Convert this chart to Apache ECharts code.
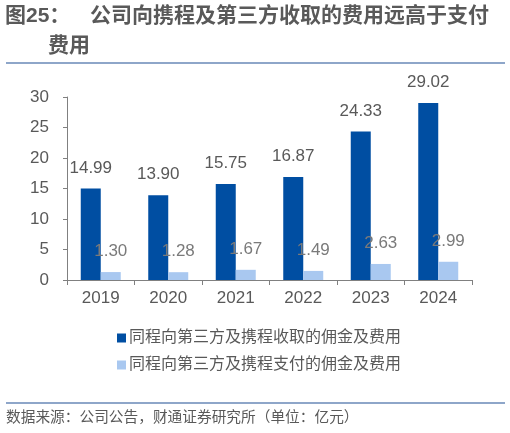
<!DOCTYPE html>
<html><head><meta charset="utf-8">
<script src="https://cdn.jsdelivr.net/npm/echarts@6/dist/echarts.min.js"></script>
<style>html,body{margin:0;padding:0;background:#fff}#c{width:510px;height:433px}</style>
</head><body><div id="c"></div>
<script>
const categories = ['2019','2020','2021','2022','2023','2024'];
const received = [14.99, 13.90, 15.75, 16.87, 24.33, 29.02];
const paid = [1.30, 1.28, 1.67, 1.49, 2.63, 2.99];
const seriesNames = ['同程向第三方及携程收取的佣金及费用', '同程向第三方及携程支付的佣金及费用'];
const yTicks = {min: 0, max: 30, interval: 5};

const num = '"Liberation Sans", Arial, sans-serif';
const cjk = '"Liberation Sans", "Noto Sans CJK SC", sans-serif';
const gray = '#595959';
const chart = echarts.init(document.getElementById('c'));
chart.setOption({
  animation: false,
  grid: {left: 67, right: 38, top: 97, bottom: 153},
  legend: {
    orient: 'vertical', left: 112, top: 325, itemWidth: 9, itemHeight: 9, itemGap: 11,
    icon: 'rect',
    textStyle: {fontFamily: cjk, fontSize: 16, color: gray, padding: [0,0,0,-2]},
    data: seriesNames
  },
  xAxis: {
    type: 'category', data: categories,
    axisLine: {lineStyle: {color: '#808080'}},
    axisTick: {show: true, alignWithLabel: false, lineStyle: {color: '#808080'}},
    axisLabel: {fontFamily: num, fontSize: 17, color: gray, margin: 10}
  },
  yAxis: {
    type: 'value', min: yTicks.min, max: yTicks.max, interval: yTicks.interval,
    axisLine: {show: true, lineStyle: {color: '#808080'}},
    axisTick: {show: true, length: 4, lineStyle: {color: '#808080'}},
    splitLine: {show: false},
    axisLabel: {fontFamily: num, fontSize: 17, color: gray, margin: 18}
  },
  series: [
    {name: seriesNames[0], type: 'bar', data: received, barWidth: 20, barGap: '0%',
     itemStyle: {color: '#004EA2'},
     label: {show: true, position: 'top', distance: 12, fontFamily: num, fontSize: 17, color: gray, formatter: p => p.value.toFixed(2)}},
    {name: seriesNames[1], type: 'bar', data: paid, barWidth: 20,
     itemStyle: {color: '#A9C8F0'},
     label: {show: true, position: 'top', distance: 12, fontFamily: num, fontSize: 17, color: '#7a7a7a', formatter: p => p.value.toFixed(2)}}
  ],
  graphic: [
    {type: 'text', left: 5, top: 6, style: {text: '图25：', fontFamily: cjk, fontSize: 21, fontWeight: 'bold', fill: gray}},
    {type: 'text', left: 90, top: 6, style: {text: '公司向携程及第三方收取的费用远高于支付', fontFamily: cjk, fontSize: 21, fontWeight: 'bold', fill: gray}},
    {type: 'text', left: 48, top: 36, style: {text: '费用', fontFamily: cjk, fontSize: 21, fontWeight: 'bold', fill: gray}},
    {type: 'line', shape: {x1: 6, y1: 63, x2: 505, y2: 63}, style: {stroke: '#1F4E93', lineWidth: 1.2}},
    {type: 'line', shape: {x1: 6, y1: 403, x2: 505, y2: 403}, style: {stroke: '#1F4E93', lineWidth: 1.2}},
    {type: 'text', left: 6, top: 411, style: {text: '数据来源：公司公告，财通证券研究所（单位：亿元）', fontFamily: cjk, fontSize: 14.7, fill: gray}}
  ]
});
</script></body></html>
